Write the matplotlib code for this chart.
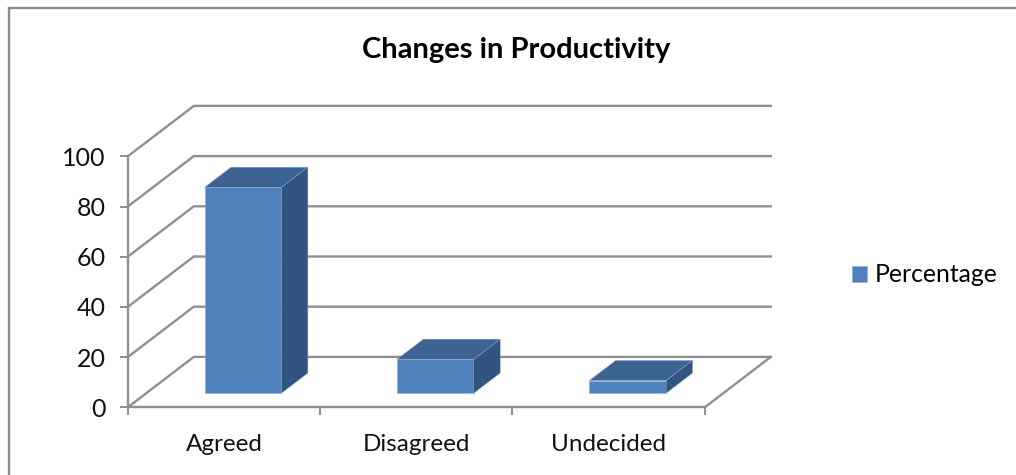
import matplotlib
matplotlib.use("Agg")
import matplotlib.pyplot as plt
from matplotlib.lines import Line2D
from matplotlib.patches import Polygon

categories = ["Agreed", "Disagreed", "Undecided"]
values = [82, 13.5, 5]
y_ticks = [0, 20, 40, 60, 80, 100]
series_name = "Percentage"
title = "Changes in Productivity"

FRONT, TOP, SIDE = "#4F81BD", "#3D6392", "#325480"
EDGE = "#8FACD2"
GRID = "#8F8F8F"
FONT = "Lato"
W, H = 1016, 475
plt.rcParams["font.family"] = [FONT, "DejaVu Sans"]

fig = plt.figure(figsize=(W / 100, H / 100), dpi=100, facecolor="white")
ax = fig.add_axes([127.8 / W, (H - 407.3) / H, 577 / W, 251 / H])
ax.set_xlim(0, len(categories))
ax.set_ylim(0, 100)
ax.patch.set_visible(False)

# depth of the 3-D box, in data units
DX = 66.0 / (577 / 3)
DY = 50.4 / 2.51
FLOOR_DEPTH = 0.28
BAR_DEPTH = 0.40
BAR_WIDTH = 0.40


def proj(x, y, d):
    return x + d * DX, y + d * DY


n = len(categories)
for t in y_ticks:
    x0, y0 = proj(0, t, 0)
    x1, y1 = proj(0, t, 1)
    x2, y2 = proj(n, t, 1)
    ax.plot([x0, x1, x2], [y0, y1, y2], color=GRID, lw=1.7, clip_on=False,
            solid_joinstyle="miter", zorder=1)
x0, y0 = proj(n, 0, 0)
x1, y1 = proj(n, 0, 1)
ax.plot([x0, x1], [y0, y1], color=GRID, lw=1.7, clip_on=False, zorder=1)

xs = [i + 0.503 - BAR_WIDTH / 2 for i in range(n)]
fx = [proj(x, 0, FLOOR_DEPTH)[0] for x in xs]
fy = proj(0, 0, FLOOR_DEPTH)[1]
ax.bar(fx, values, width=BAR_WIDTH, bottom=fy, align="edge", color=FRONT,
       edgecolor=EDGE, linewidth=0.4, clip_on=False, zorder=3, label=series_name)
ddx, ddy = BAR_DEPTH * DX, BAR_DEPTH * DY
for x, v in zip(fx, values):
    r = x + BAR_WIDTH
    t = fy + v
    ax.add_patch(Polygon([(x, t), (r, t), (r + ddx, t + ddy), (x + ddx, t + ddy)],
                         facecolor=TOP, edgecolor=EDGE, linewidth=0.3,
                         clip_on=False, zorder=3))
    ax.add_patch(Polygon([(r, fy), (r, t), (r + ddx, t + ddy), (r + ddx, fy + ddy)],
                         facecolor=SIDE, edgecolor=EDGE, linewidth=0.3,
                         clip_on=False, zorder=3))

for s in ("top", "right"):
    ax.spines[s].set_visible(False)
for s in ("left", "bottom"):
    ax.spines[s].set_color(GRID)
    ax.spines[s].set_linewidth(1.7)
ax.set_yticks(y_ticks)
ax.set_xticks(range(n + 1))
ax.set_xticklabels([""] * (n + 1))
ax.set_xticks([i + 0.5 for i in range(n)], categories, minor=True)
ax.tick_params(axis="x", which="major", color=GRID, width=1.4, length=6)
ax.tick_params(axis="y", color=GRID, width=1.4, length=6, labelsize=18,
               labelcolor="#111111", pad=10)
ax.tick_params(axis="x", which="minor", length=0, pad=19, labelsize=17.5,
               labelcolor="#111111")

fig.text(516 / W, 1 - 50 / H, title, ha="center", va="center", fontsize=21,
         fontweight="bold", color="#000000")

ax.legend(loc="center left", bbox_to_anchor=(852 / W, 1 - 275 / H),
          bbox_transform=fig.transFigure, frameon=False, fontsize=17.8,
          handlelength=0.62, handleheight=0.62, handletextpad=0.3,
          borderpad=0, borderaxespad=0)

# outer chart frame (open on the right and at the bottom)
fig.add_artist(Line2D([9 / W, 9 / W, 1], [0, 1 - 7.5 / H, 1 - 7.5 / H],
                      color="#8A8A8A", lw=1.7, solid_joinstyle="miter"))

fig.savefig("out.png", dpi=100, facecolor="white")
